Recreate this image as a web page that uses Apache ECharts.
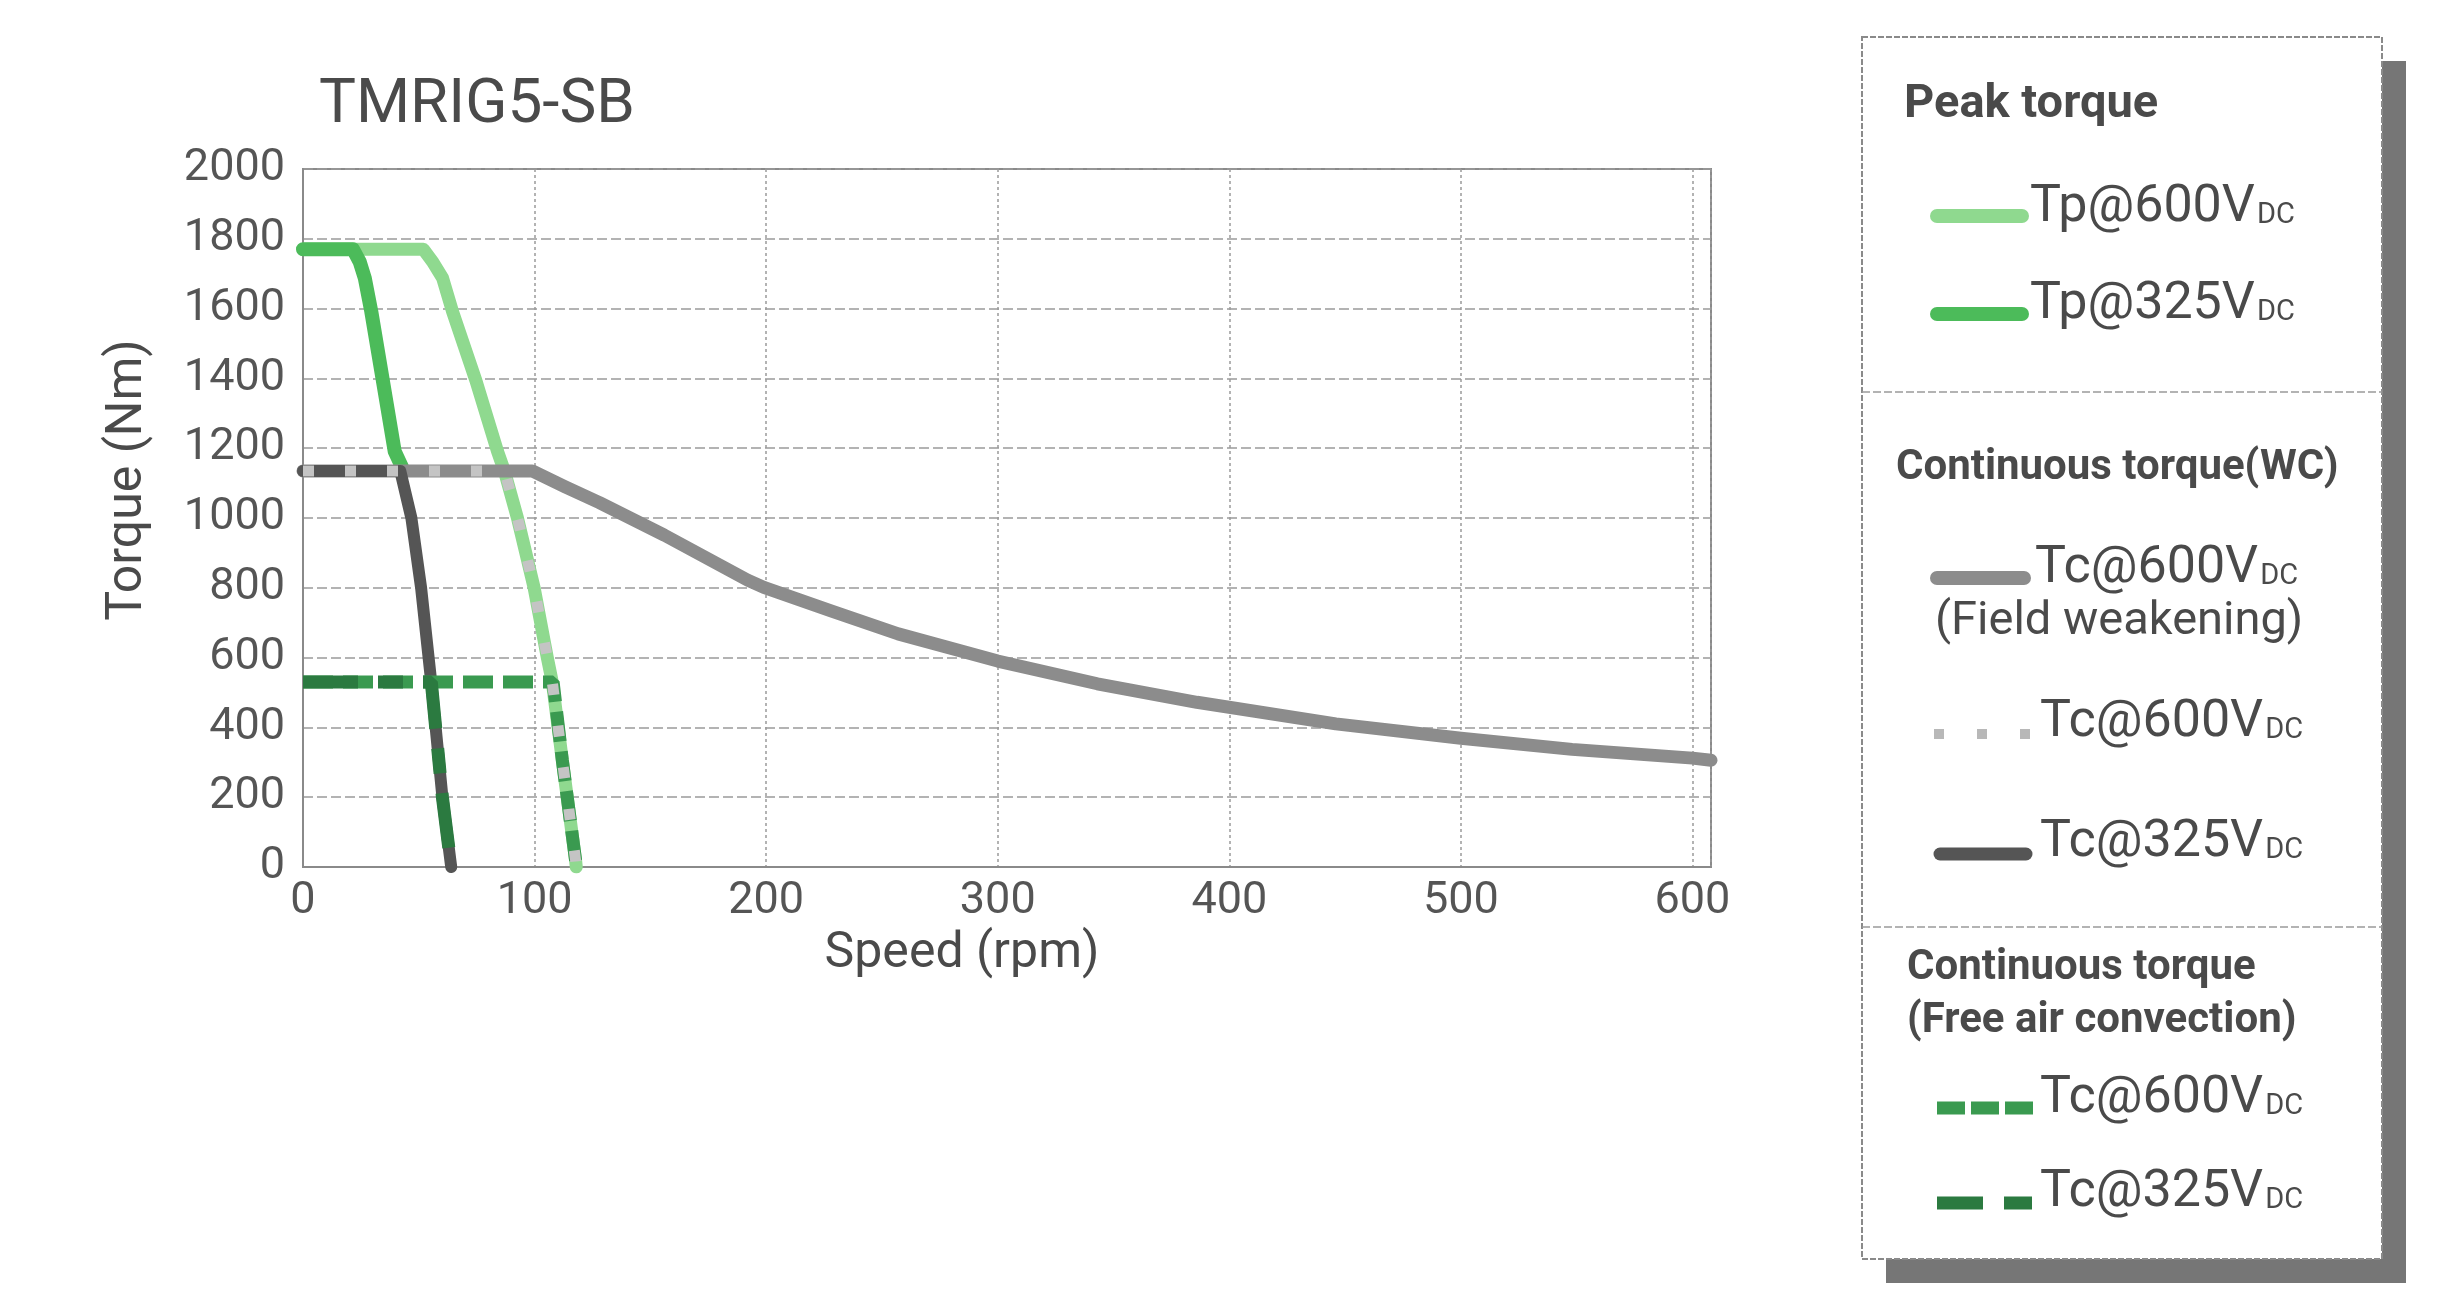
<!DOCTYPE html>
<html>
<head>
<meta charset="utf-8">
<title>TMRIG5-SB</title>
<script src="https://cdn.jsdelivr.net/npm/echarts@6/dist/echarts.min.js"></script>
<style>
  html, body { margin: 0; padding: 0; background: #fff; }
  #chart { width: 2441px; height: 1290px; }
</style>
</head>
<body>
<div id="chart"></div>
<script>
// axis ticks
const speedTicks = [0, 100, 200, 300, 400, 500, 600];
const torqueTicks = [0, 200, 400, 600, 800, 1000, 1200, 1400, 1600, 1800, 2000];

// Peak torque
const tp600Speed = [0, 52, 56, 60.3, 64.6, 74.7, 84, 87, 92.6, 99.8, 105.5, 107.7, 112, 117.7, 118];
const tp600Torque = [1770, 1770, 1734, 1687, 1591, 1393, 1191, 1134, 1000, 800, 600, 528, 305, 20, 0];
const tp325Speed = [0, 21.6, 24.5, 26.7, 29.5, 34.5, 39.6, 42.8];
const tp325Torque = [1770, 1770, 1734, 1687, 1591, 1393, 1191, 1145];

// Continuous torque (WC)
const fw600Speed = [0, 99, 113, 128, 156, 192, 199, 228, 257, 300, 343, 386, 446, 500, 548, 600, 608];
const fw600Torque = [1135, 1135, 1090, 1044, 951, 822, 801, 734, 668, 590, 525, 472, 410, 369, 337, 312, 306];
const tc600Speed = [0, 87, 92.6, 99.8, 105.5, 107.7, 112, 117.7, 118];
const tc600Torque = [1135, 1135, 1000, 800, 600, 528, 305, 20, 0];
const tc325Speed = [0, 42, 46.8, 51, 55.4, 60.2, 64];
const tc325Torque = [1135, 1135, 1000, 800, 528, 200, 0];

// Continuous torque (free air convection)
const fa600Speed = [0, 108, 112, 117.7, 118];
const fa600Torque = [530, 530, 305, 20, 0];
const fa325Speed = [0, 55.4, 60.2, 64];
const fa325Torque = [530, 530, 200, 0];

function pairs(xs, ys) {
  return xs.map((x, i) => [x, ys[i]]);
}

const FONT = 'Roboto, "Noto Sans", sans-serif';
const TEXT = '#4a4a4a';

function lineSeries(name, xs, ys, style) {
  return {
    name: name,
    type: 'line',
    data: pairs(xs, ys),
    showSymbol: false,
    symbol: 'none',
    smooth: false,
    lineStyle: style,
    emphasis: { disabled: true },
    silent: true
  };
}

// legend box drawn as graphic elements
const legendLeft = 1862, legendTop = 37, legendW = 520, legendH = 1222;
const richLabel = {
  a: { fontFamily: FONT, fontSize: 52, fill: TEXT, verticalAlign: 'bottom', lineHeight: 60 },
  b: { fontFamily: FONT, fontSize: 29, fill: TEXT, verticalAlign: 'bottom', lineHeight: 60, padding: [0, 0, 4, 2] }
};

function legendText(x, y, main) {
  return {
    type: 'text', left: x, top: y - 30, z: 20,
    style: { text: '{a|' + main + '}{b|DC}', rich: richLabel }
  };
}
function heading(x, y, txt, size) {
  return {
    type: 'text', left: x, top: y - size * 0.62, z: 20,
    style: { text: txt, fontFamily: FONT, fontSize: size, fontWeight: 'bold', fill: TEXT }
  };
}
function swatch(y, x1, x2, color, width, dash, cap) {
  return {
    type: 'line', z: 20,
    shape: { x1: x1, y1: y, x2: x2, y2: y },
    style: { stroke: color, lineWidth: width, lineDash: dash || null, lineCap: cap || 'round' }
  };
}

const legendGraphics = [
  // shadow
  { type: 'rect', z: 10, shape: { x: legendLeft + 24, y: legendTop + 24, width: legendW, height: legendH },
    style: { fill: '#767676' } },
  { type: 'rect', z: 11, shape: { x: legendLeft, y: legendTop, width: legendW, height: legendH },
    style: { fill: '#fff', stroke: '#8a8a8a', lineWidth: 2, lineDash: [6, 2] } },
  { type: 'line', z: 12, shape: { x1: legendLeft, y1: 392, x2: legendLeft + legendW, y2: 392 },
    style: { stroke: '#9a9a9a', lineWidth: 1.5, lineDash: [8, 3] } },
  { type: 'line', z: 12, shape: { x1: legendLeft, y1: 927, x2: legendLeft + legendW, y2: 927 },
    style: { stroke: '#9a9a9a', lineWidth: 1.5, lineDash: [8, 3] } },

  heading(1904, 111, 'Peak torque', 47),
  swatch(216, 1937, 2022, '#8fd98f', 14),
  legendText(2030, 212, 'Tp@600V'),
  swatch(314, 1937, 2022, '#4cbb5a', 14),
  legendText(2030, 309, 'Tp@325V'),

  heading(1896, 474, 'Continuous torque(WC)', 42),
  swatch(578, 1937, 2024, '#8c8c8c', 14),
  legendText(2035, 573, 'Tc@600V'),
  {
    type: 'text', left: 1935, top: 622 - 30, z: 20,
    style: { text: '(Field weakening)', fontFamily: FONT, fontSize: 47, fill: TEXT, lineHeight: 60 }
  },
  swatch(734, 1934, 2030, '#b8b8b8', 10, [10, 33], 'butt'),
  legendText(2040, 727, 'Tc@600V'),
  swatch(854, 1940, 2026, '#555555', 13),
  legendText(2040, 847, 'Tc@325V'),

  heading(1907, 974, 'Continuous torque', 42),
  heading(1907, 1027, '(Free air convection)', 42),
  swatch(1108, 1937, 2033, '#3a9a50', 13, [28, 6], 'butt'),
  legendText(2040, 1103, 'Tc@600V'),
  swatch(1203, 1937, 2033, '#2b7a40', 13, [46, 21, 28, 100], 'butt'),
  legendText(2040, 1197, 'Tc@325V')
];

const chart = echarts.init(document.getElementById('chart'));
chart.setOption({
  backgroundColor: '#fff',
  animation: false,
  title: {
    text: 'TMRIG5-SB',
    left: 314,
    top: 70,
    textStyle: { fontFamily: FONT, fontSize: 62, fontWeight: 'normal', color: TEXT }
  },
  grid: {
    left: 303, right: 730, top: 169, bottom: 423,
    show: true, borderColor: '#8a8a8a', borderWidth: 2
  },
  xAxis: {
    type: 'value',
    min: speedTicks[0],
    max: 608,
    interval: 100,
    name: 'Speed (rpm)',
    nameLocation: 'middle',
    nameGap: 62,
    nameTextStyle: { fontFamily: FONT, fontSize: 50, color: TEXT, padding: [0, 90, 0, 0] },
    axisLine: { show: true, lineStyle: { color: '#8a8a8a', width: 2 } },
    axisTick: { show: false },
    axisLabel: {
      fontFamily: FONT, fontSize: 45, color: '#555', margin: 12,
      formatter: v => (speedTicks.indexOf(v) >= 0 ? String(v) : '')
    },
    splitLine: { show: true, lineStyle: { color: '#9a9a9a', width: 1.5, type: [3, 3] } }
  },
  yAxis: {
    type: 'value',
    min: torqueTicks[0],
    max: torqueTicks[torqueTicks.length - 1],
    interval: 200,
    name: 'Torque (Nm)',
    nameLocation: 'middle',
    nameGap: 150,
    nameTextStyle: { fontFamily: FONT, fontSize: 50, color: TEXT, padding: [0, 0, 0, 76] },
    axisLine: { show: true, lineStyle: { color: '#8a8a8a', width: 2 } },
    axisTick: { show: false },
    axisLabel: {
      fontFamily: FONT, fontSize: 45, color: '#555', margin: 18, padding: [0, 0, 12, 0],
      formatter: v => String(v)
    },
    splitLine: { show: true, lineStyle: { color: '#9a9a9a', width: 1.5, type: [10, 4] } }
  },
  series: [
    lineSeries('Tp@600VDC', tp600Speed, tp600Torque, { color: '#8fd98f', width: 13, cap: 'round', join: 'round' }),
    lineSeries('Tp@325VDC', tp325Speed, tp325Torque, { color: '#4cbb5a', width: 14, cap: 'round', join: 'round' }),
    lineSeries('Tc@600VDC (Field weakening)', fw600Speed, fw600Torque, { color: '#8c8c8c', width: 13, cap: 'round', join: 'round' }),
    lineSeries('Tc@325VDC', tc325Speed, tc325Torque, { color: '#555555', width: 12, cap: 'round', join: 'round' }),
    lineSeries('Tc@600VDC free air', fa600Speed, fa600Torque, { color: '#3a9a50', width: 13, type: [30, 10], cap: 'butt' }),
    lineSeries('Tc@325VDC free air', fa325Speed, fa325Torque, { color: '#2b7a40', width: 13, type: [55, 20, 25, 20], cap: 'butt' }),
    lineSeries('Tc@600VDC', tc600Speed, tc600Torque, { color: '#c4c4c4', width: 11, type: [11, 31], cap: 'butt' })
  ],
  graphic: legendGraphics
});
</script>
</body>
</html>
